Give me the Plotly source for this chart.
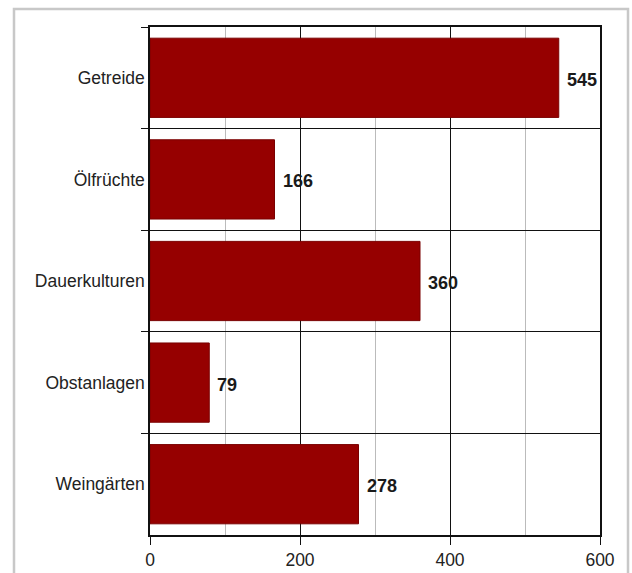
import plotly.graph_objects as go

categories = ["Getreide", "Ölfrüchte", "Dauerkulturen", "Obstanlagen", "Weingärten"]
values = [545, 166, 360, 79, 278]
x_ticks = [0, 200, 400, 600]

W, H = 632, 573
L, R, T, B = 150, 32, 27, 38
pw, ph = W - L - R, H - T - B

def px_to_paper_x(px):
    return (px - L) / pw

def px_to_paper_y(py):
    return (H - B - py) / ph

fig = go.Figure()
fig.add_trace(go.Bar(
    x=values, y=categories, orientation="h",
    marker=dict(color="#960000", line=dict(color="#7a0000", width=1)),
    width=0.78,
    hoverinfo="skip",
))

for c, v in zip(categories, values):
    fig.add_annotation(
        x=v, y=c, text=f"<b>{v}</b>", showarrow=False,
        xanchor="left", xshift=6, yshift=-2,
        font=dict(family="Liberation Sans, Arial", size=18, color="#1a1a1a"),
    )

fig.update_layout(
    width=W, height=H,
    margin=dict(l=L, r=R, t=T, b=B),
    paper_bgcolor="white", plot_bgcolor="white",
    showlegend=False,
    font=dict(family="Liberation Sans, Arial", size=17, color="#222222"),
    xaxis=dict(
        range=[0, 600], tickvals=x_ticks, ticktext=[str(t) for t in x_ticks],
        showgrid=True, gridcolor="#111111", gridwidth=1,
        minor=dict(dtick=100, showgrid=True, gridcolor="#bbbbbb", gridwidth=1, ticks=""),
        showline=True, linecolor="#111111", linewidth=1.5, mirror=True,
        ticks="outside", ticklen=8, tickcolor="#111111",
        zeroline=False, fixedrange=True, automargin=False,
        tickfont=dict(size=17.5, color="#222222"),
    ),
    yaxis=dict(
        categoryorder="array", categoryarray=categories, autorange="reversed",
        tickson="boundaries", showgrid=True, gridcolor="#111111", gridwidth=1,
        showline=True, linecolor="#111111", linewidth=1.5, mirror=True,
        ticks="outside", ticklen=7, tickcolor="#111111",
        tickfont=dict(size=17.5, color="#222222"),
        fixedrange=True, automargin=False,
    ),
    bargap=0.22,
    shapes=[dict(
        type="rect", xref="paper", yref="paper",
        x0=px_to_paper_x(14), x1=px_to_paper_x(628),
        y0=px_to_paper_y(600), y1=px_to_paper_y(9),
        line=dict(color="#c8c8c8", width=2.5), fillcolor="rgba(0,0,0,0)", layer="below",
    )],
)

fig.write_html("out.html")
